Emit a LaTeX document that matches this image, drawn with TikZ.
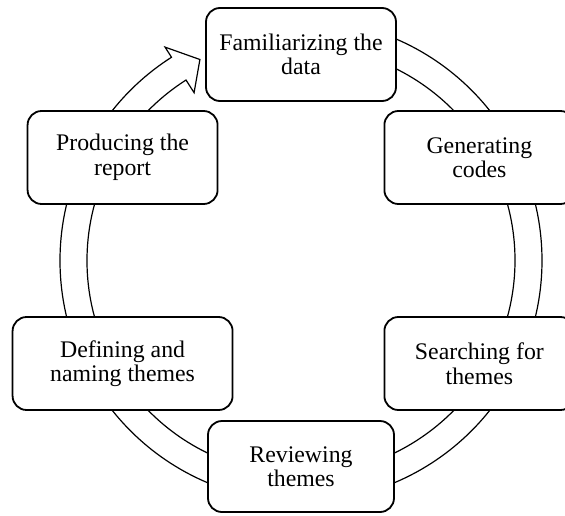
\documentclass[tikz,border=0pt]{standalone}
\usepackage{fontspec}
\setmainfont{Liberation Serif}
\usepackage{tikz}

\tikzset{
  stage/.style={draw, fill=white, line width=1.8pt, rounded corners=14pt,
    minimum width=190pt, minimum height=93pt, align=center,
    font=\fontsize{23.8pt}{24.5pt}\selectfont},
  ring/.style={draw, fill=white, line width=1.2pt, line join=miter}
}

\begin{document}
\begin{tikzpicture}
      \useasboundingbox (-301pt,-254.5pt) rectangle (264pt,260.5pt);
      \coordinate (c) at (0pt,0pt);

      \draw[ring] (90:241pt) arc[start angle=90, end angle=-237.5, radius=241pt]
        -- (122.5:253pt) -- (116.7:225pt) -- (122.5:199pt) -- (122.5:214pt)
        arc[start angle=-237.5, end angle=90, radius=214pt] -- cycle;

      \node[stage] (fam) at (90:206pt) {Familiarizing the\\data};
      \node[stage] (gen) at (30:206pt) {Generating\\codes};
      \node[stage] (sea) at (-30:206pt) {Searching for\\themes};
      \node[stage, minimum width=186pt, minimum height=91pt] (rev) at (-90:206pt) {Reviewing\\themes};
      \node[stage, minimum width=220pt] (def) at (-150:206pt) {Defining and\\naming themes};
      \node[stage] (pro) at (150:206pt) {Producing the\\report};
    \end{tikzpicture}
\end{document}
